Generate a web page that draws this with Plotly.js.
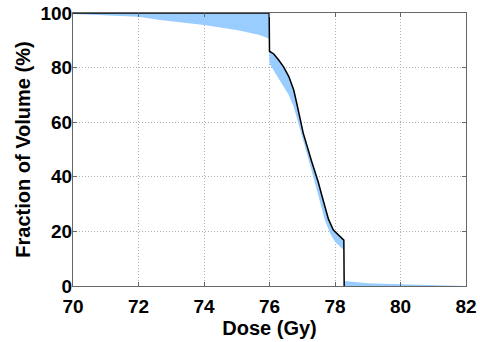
<!DOCTYPE html>
<html><head><meta charset="utf-8">
<script src="https://cdn.plot.ly/plotly-3.0.1.min.js"></script>
<style>html,body{margin:0;padding:0;background:#fff}#chart{width:480px;height:342px}</style>
</head><body><div id="chart"></div>
<script>
// Lower edge of the blue band
var lowX = [70, 71, 72, 72.66, 73.3, 74, 75, 75.7, 75.98, 76.0, 76.18, 76.38, 76.59, 76.74, 76.95, 77.2, 77.45, 77.69, 77.85, 78.0, 78.27, 78.28, 82];
var lowY = [99.6, 99.2, 98.6, 97.4, 96.6, 95.6, 93.8, 91.9, 90.7, 81.5, 77.9, 74.2, 70, 65.7, 57, 46, 35, 24.2, 19.3, 16.2, 13.2, 0, 0];
// Upper edge of the blue band
var upX = [70, 75.99, 76.0, 76.13, 76.28, 76.43, 76.59, 76.74, 76.84, 77.03, 77.29, 77.39, 77.49, 77.59, 77.7, 77.8, 77.95, 78.1, 78.27, 78.28, 79, 80, 81.2, 81.6, 82];
var upY = [100, 100, 86, 85, 82.8, 80.3, 76.7, 71.8, 66.5, 56, 45.5, 42, 38, 33.5, 28.5, 24.5, 20.5, 18.7, 16.8, 1.8, 1.0, 0.6, 0.1, 0, 0];
// Nominal curve (black)
var lineX = [70, 75.99, 76.0, 76.13, 76.28, 76.43, 76.59, 76.74, 76.84, 77.03, 77.29, 77.39, 77.49, 77.59, 77.7, 77.8, 77.95, 78.1, 78.27, 78.28];
var lineY = [100, 100, 86, 85, 82.8, 80.3, 76.7, 71.8, 66.5, 56, 45.5, 42, 38, 33.5, 28.5, 24.5, 20.5, 18.7, 16.8, 0];
var xTicks = [70, 72, 74, 76, 78, 80, 82];
var yTicks = [0, 20, 40, 60, 80, 100];

var fillCol = 'rgb(153,204,255)';
var traces = [
  {x: lowX, y: lowY, mode: 'lines', line: {width: 0, color: fillCol}, hoverinfo: 'skip', showlegend: false},
  {x: upX, y: upY, mode: 'lines', fill: 'tonexty', fillcolor: fillCol, line: {width: 0, color: fillCol}, hoverinfo: 'skip', showlegend: false},
  {x: lineX, y: lineY, mode: 'lines', line: {width: 1.5, color: '#000'}, showlegend: false}
];
var tickFont = {family: 'Liberation Sans, Arial, sans-serif', size: 19, color: '#000', weight: 700};
var titleFont = {family: 'Liberation Sans, Arial, sans-serif', size: 20, color: '#000', weight: 700};
var bold = function (v) { return '<b>' + v + '</b>'; };
var axisCommon = {
  showline: true, linecolor: '#666', linewidth: 1, mirror: 'ticks',
  ticks: 'inside', ticklen: 4, tickcolor: '#666',
  showgrid: true, gridcolor: '#b0b0b0', griddash: '1px,2px', gridwidth: 1,
  zeroline: false, tickfont: tickFont
};
var layout = {
  width: 480, height: 342,
  margin: {l: 73, r: 14, t: 13, b: 56},
  paper_bgcolor: '#fff', plot_bgcolor: '#fff',
  xaxis: Object.assign({}, axisCommon, {range: [70, 82], tickvals: xTicks, ticktext: xTicks.map(bold),
    ticklabelstandoff: 3,
    title: {text: '<b>Dose (Gy)</b>', font: titleFont, standoff: 0}}),
  yaxis: Object.assign({}, axisCommon, {range: [0, 100], tickvals: yTicks, ticktext: yTicks.map(bold),
    ticklabelstandoff: -4,
    title: {text: '<b>Fraction of Volume (%)</b>', font: titleFont, standoff: 4}})
};
Plotly.newPlot('chart', traces, layout, {staticPlot: true});
</script></body></html>
